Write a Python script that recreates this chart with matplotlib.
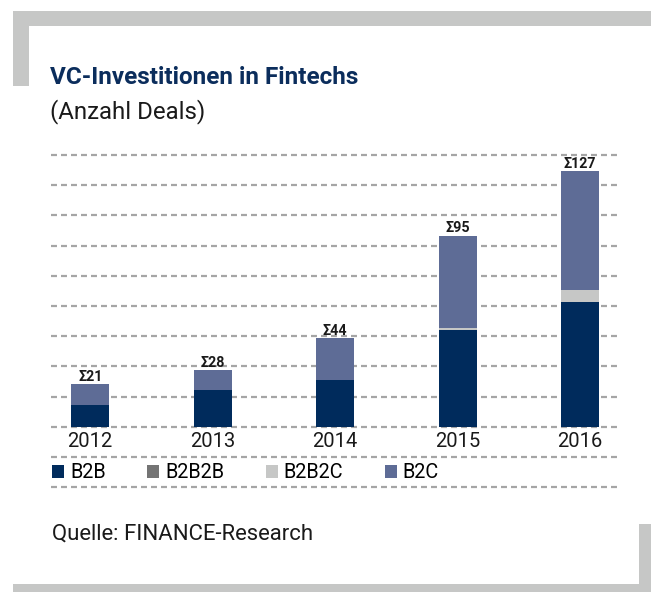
import matplotlib
matplotlib.use("Agg")
import matplotlib.pyplot as plt
from matplotlib.patches import Rectangle

# data
years = ["2012", "2013", "2014", "2015", "2016"]
b2b = [11, 18, 23, 48, 62]
b2b2b = [0, 0, 0, 0, 0]
b2b2c = [0, 0, 0, 1, 6]
b2c = [10, 10, 21, 46, 59]
totals = [21, 28, 44, 95, 127]
series_names = ["B2B", "B2B2B", "B2B2C", "B2C"]
series_colors = ["#002b5c", "#747474", "#c6c7c6", "#5e6c96"]

plt.rcParams["font.family"] = ["Roboto", "DejaVu Sans"]
plt.rcParams["lines.scale_dashes"] = False

W, H = 651, 592
fig = plt.figure(figsize=(W / 100, H / 100), dpi=100)

def fx(px):
    return px / W

def fy(py):
    return 1 - py / H

# grey frame pieces
frame = "#c6c7c6"
for x0, y0, x1, y1 in [(12.7, 10.7, 651, 26), (12.7, 10.7, 29, 86),
                       (639, 524, 651, 592), (12.7, 584, 651, 592)]:
    fig.add_artist(Rectangle((fx(x0), fy(y1)), fx(x1) - fx(x0), fy(y0) - fy(y1),
                             transform=fig.transFigure, color=frame, lw=0))

fig.text(fx(50), fy(84.3), "VC-Investitionen in Fintechs", fontsize=17.5,
         fontweight="bold", color="#0b2d5c", va="baseline")
fig.text(fx(50), fy(118.3), "(Anzahl Deals)", fontsize=17.3, color="#1a1a1a", va="baseline")
fig.text(fx(52), fy(539.3), "Quelle: FINANCE-Research", fontsize=15.9, color="#1a1a1a",
         va="baseline")

ax = fig.add_axes([fx(51), fy(426.7), fx(618) - fx(51), fy(155) - fy(426.7)])
x = list(range(len(years)))
bottom = [0] * len(years)
handles = []
for vals, name, col in zip([b2b, b2b2b, b2b2c, b2c], series_names, series_colors):
    h = ax.bar(x, vals, width=0.31, bottom=bottom, color=col, label=name, zorder=3)
    handles.append(h)
    bottom = [b + v for b, v in zip(bottom, vals)]

for xi, t in zip(x, totals):
    ax.text(xi, t + 1.6, "\u03a3" + str(t), ha="center", va="baseline",
            fontsize=10.3, fontweight="bold", color="#1a1a1a")

for g in range(-30, 136, 15):
    ax.axhline(g, color="#a5a5a5", lw=1.6, linestyle=(0, (4.3, 2.9)),
               clip_on=False, zorder=1)

ax.set_xlim(-0.32, 4.31)
ax.set_ylim(0, 135)
ax.set_xticks(x)
ax.set_xticklabels(years, fontsize=14.5, color="#1a1a1a")
ax.tick_params(axis="x", length=0, pad=4)
ax.set_yticks([])
for s in ax.spines.values():
    s.set_visible(False)

fs = 14.3
leg = fig.legend(handles, series_names, ncol=4, loc="center left",
                 bbox_to_anchor=(fx(52), fy(473)), frameon=False, fontsize=fs,
                 handlelength=0.6, handleheight=0.6, handletextpad=0.3,
                 columnspacing=2.1, borderpad=0, borderaxespad=0)

fig.savefig("out.png", dpi=100)
